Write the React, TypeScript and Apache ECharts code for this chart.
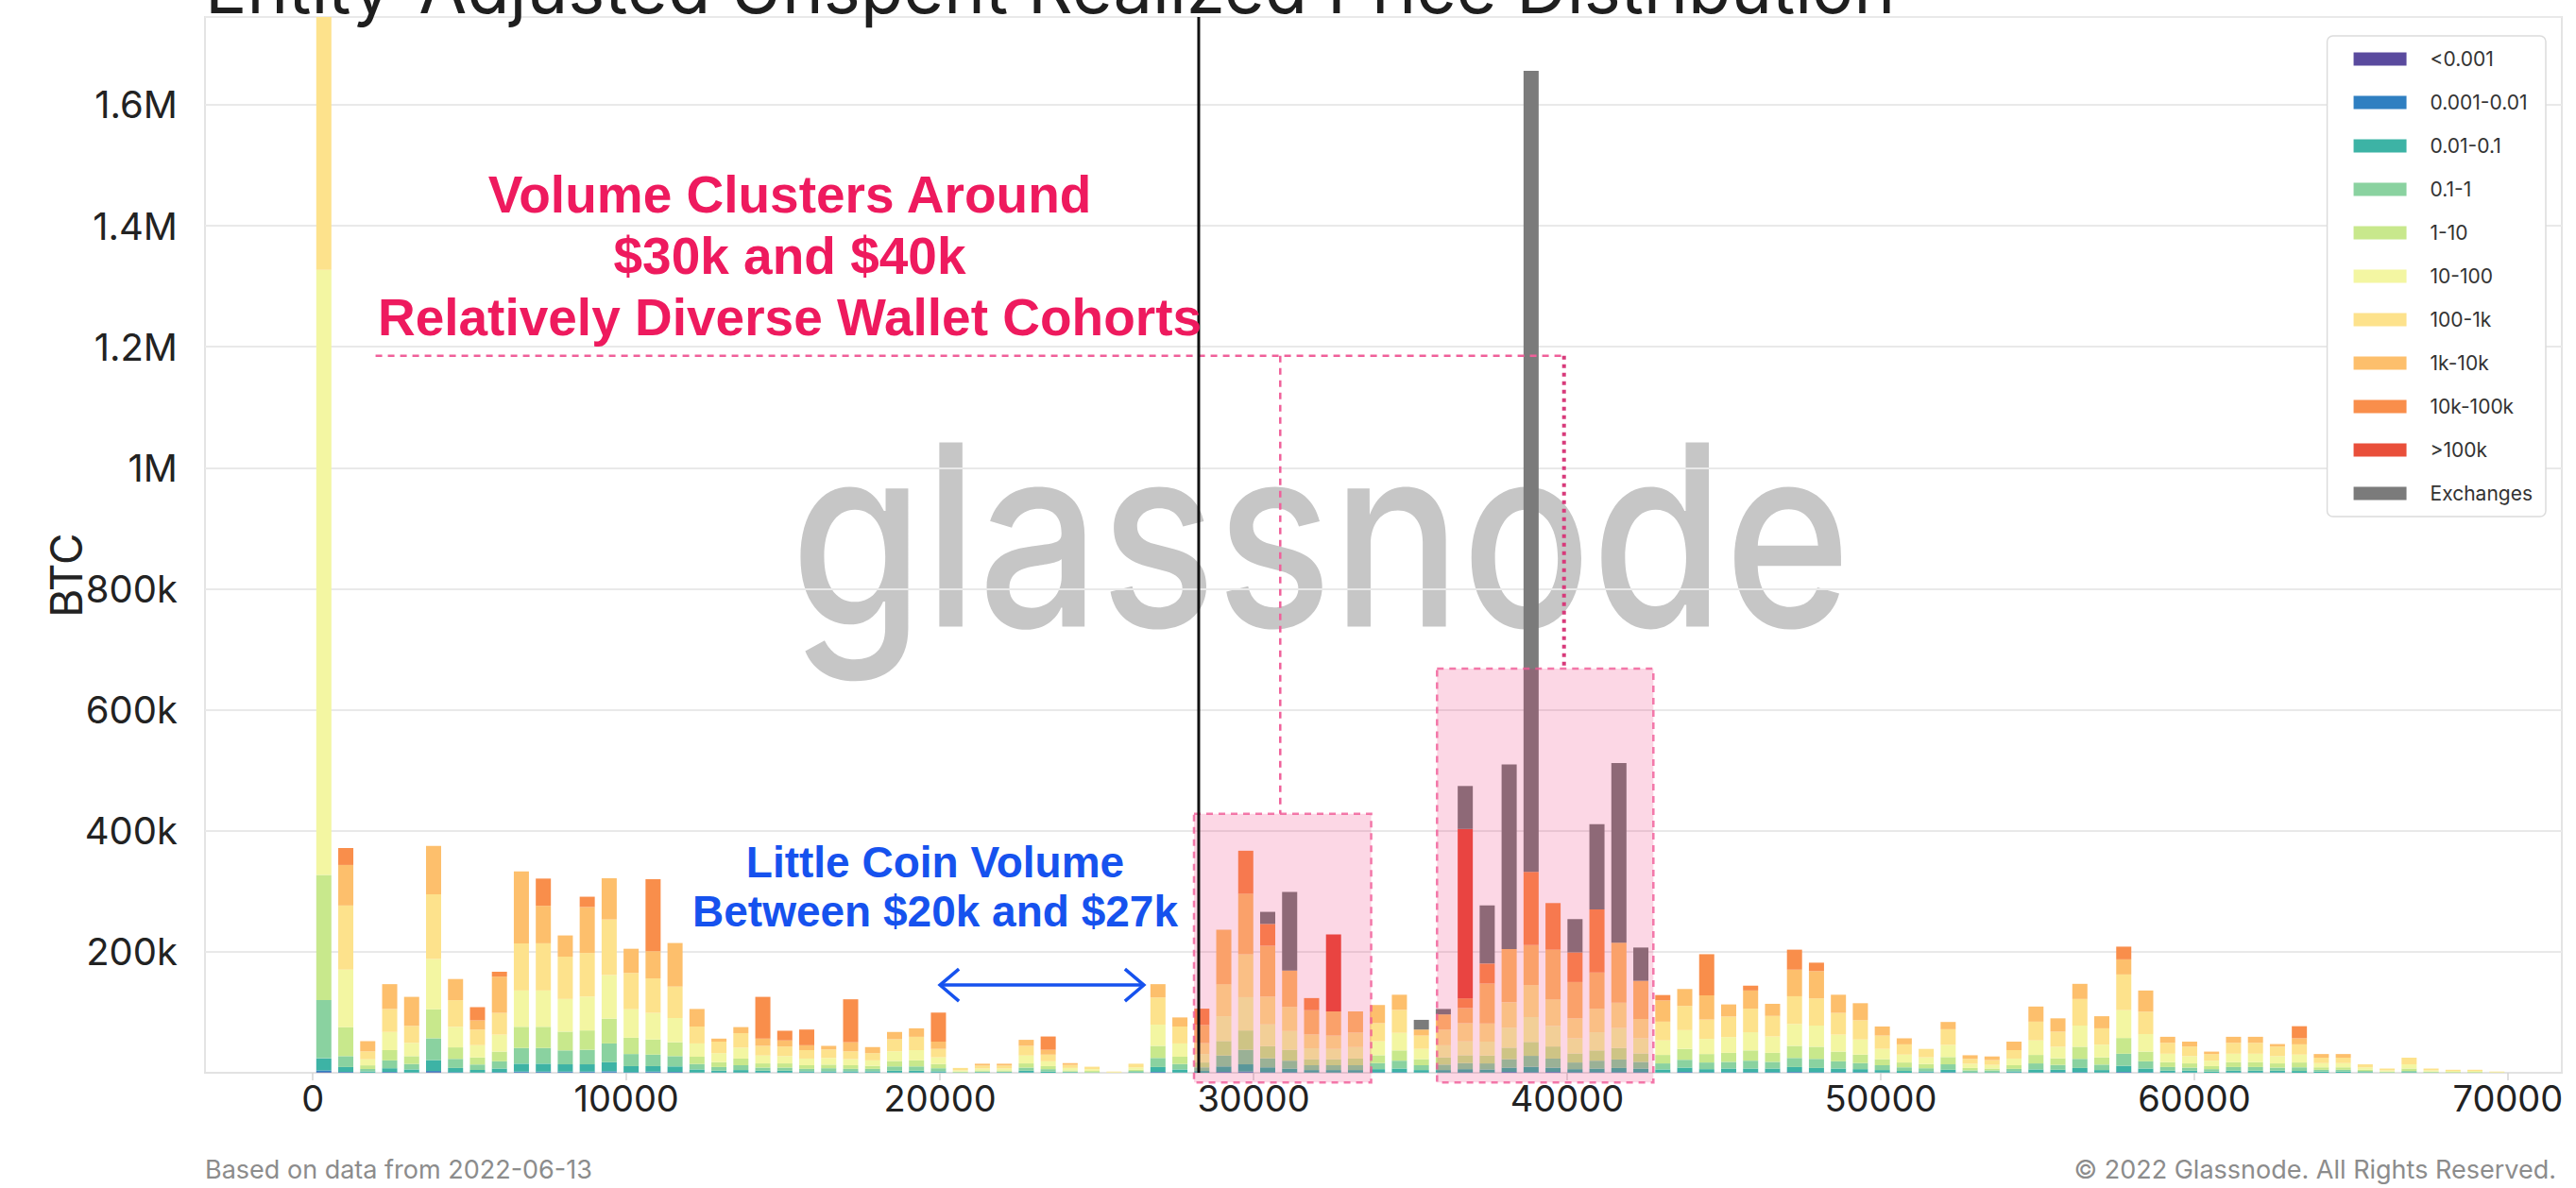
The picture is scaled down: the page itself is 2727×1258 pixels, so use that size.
import React, { useEffect, useRef } from "react";
import * as echarts from "echarts";

// ---------- DATA (values in thousands of BTC, 100 price bins of $700 from 0 to 70k) ----------
const BIN_WIDTH = 700;
const BIN_COUNT = 100;
const SERIES_NAMES = ["<0.001", "0.001-0.01", "0.01-0.1", "0.1-1", "1-10", "10-100", "100-1k", "1k-10k", "10k-100k", ">100k", "Exchanges"];
const SERIES_COLORS = ["#5a4a9e", "#2f7fc1", "#3db3a5", "#8ad2a0", "#c8e88c", "#f3f6a2", "#fde28c", "#fdbf6c", "#f98e4b", "#e94f3a", "#7b7b7b"];

const V_LT_0001 = [
  1, 0.5, 0, 0.5, 0, 1, 0, 0, 0, 0.5,
  0.5, 0.5, 0.5, 0.5, 0, 0.5, 0.5, 0, 0, 0,
  0, 0, 0, 0, 0, 0, 0, 0, 0, 0,
  0, 0, 0, 0, 0, 0, 0, 0, 0.5, 0,
  0, 0.5, 0.5, 0, 0, 0, 0, 0, 0, 0,
  0, 0, 0, 0, 0.5, 0, 0.5, 0, 0, 0,
  0, 0, 0.5, 0, 0, 0, 0, 0.5, 0, 0,
  0, 0, 0, 0, 0, 0, 0, 0, 0, 0,
  0, 0, 0.5, 0, 0, 0, 0, 0, 0, 0,
  0, 0, 0, 0, 0, 0, 0, 0, 0, 0,
];
const V_0001_001 = [
  3, 1, 0.3, 1, 0.5, 2, 1, 0.5, 1, 1.5,
  1.5, 1.5, 1.5, 2, 1, 1.5, 1, 0.5, 0.5, 0.5,
  0.5, 0.5, 0.5, 0.5, 0.5, 0.5, 0.5, 0.5, 0.5, 0,
  0, 0, 0.5, 0, 0, 0, 0, 0, 1, 0.5,
  0, 1, 1.5, 1, 1, 0.5, 0.5, 0.5, 1, 1,
  0.5, 0.5, 1, 0.5, 1, 1, 1, 1, 1, 1,
  1, 0.5, 1, 1, 1, 1, 1, 1, 1, 1,
  1, 0.5, 0, 0.5, 1, 0, 0, 0.5, 0.5, 1,
  1, 0.5, 1, 1, 0.5, 0.5, 0, 0.5, 0.5, 0.5,
  0, 0, 0, 0, 0, 0, 0, 0, 0, 0,
];
const V_001_01 = [
  20, 8, 2, 6, 5, 18, 7, 4, 6, 13,
  13, 12, 12, 15, 10, 9, 9, 5, 3, 4,
  3, 3, 2, 2, 2, 2, 3, 3, 2, 0,
  1, 1, 3, 2, 1, 0, 0, 1, 8, 5,
  3, 9, 12, 8, 6, 4, 4, 4, 5, 6,
  4, 4, 5, 5, 7, 9, 7, 5, 6, 7,
  6, 5, 7, 5, 6, 6, 6, 8, 7, 6,
  5, 4, 3, 2, 4, 1, 1, 2, 5, 4,
  7, 4, 10, 6, 3, 3, 2, 3, 3, 3,
  3, 2, 2, 1, 0, 1, 0, 0, 0, 0,
];
const V_01_1 = [
  96, 18, 4, 13, 9, 36, 15, 9, 12, 26,
  26, 23, 24, 31, 20, 19, 17, 9, 6, 8,
  5, 5, 4, 5, 4, 4, 7, 7, 5, 1,
  1, 1, 5, 4, 1, 1, 0, 2, 15, 9,
  6, 18, 24, 15, 13, 8, 8, 8, 10, 13,
  8, 9, 10, 10, 14, 18, 15, 11, 13, 14,
  11, 10, 13, 11, 11, 13, 11, 15, 15, 12,
  10, 8, 6, 5, 9, 3, 3, 4, 10, 8,
  15, 9, 20, 12, 6, 5, 4, 6, 6, 5,
  6, 3, 3, 2, 1, 2, 1, 0.5, 0.5, 0,
];
const V_1_10 = [
  207, 48, 6, 17, 13, 48, 19, 12, 16, 35,
  35, 31, 32, 41, 27, 25, 23, 12, 8, 11,
  7, 7, 6, 6, 6, 5, 9, 10, 7, 1,
  2, 2, 7, 5, 2, 2, 0, 2, 20, 12,
  8, 24, 32, 20, 18, 10, 10, 11, 13, 17,
  10, 12, 13, 13, 19, 23, 20, 15, 17, 19,
  14, 14, 18, 14, 15, 17, 15, 20, 20, 16,
  14, 10, 8, 7, 12, 4, 3, 6, 14, 11,
  20, 12, 26, 16, 8, 7, 5, 8, 8, 7,
  8, 4, 4, 2, 1, 4, 1, 1, 1, 0.5,
];
const V_10_100 = [
  1000, 95, 10, 30, 22, 83, 34, 20, 28, 60,
  60, 54, 56, 72, 47, 44, 40, 22, 15, 18,
  13, 12, 11, 11, 10, 9, 16, 17, 11, 2,
  3, 3, 13, 8, 4, 3, 1, 4, 35, 22,
  14, 41, 55, 36, 31, 18, 17, 19, 23, 29,
  17, 20, 23, 23, 33, 41, 34, 25, 30, 33,
  25, 24, 31, 25, 26, 30, 27, 36, 35, 28,
  25, 17, 13, 11, 20, 7, 6, 11, 24, 19,
  35, 21, 46, 29, 14, 12, 9, 14, 14, 12,
  13, 7, 7, 4, 2, 7, 2, 1.5, 1.5, 0.5,
];
const V_100_1K = [
  600, 106, 13, 38, 28, 107, 44, 26, 36, 78,
  78, 70, 72, 92, 60, 57, 52, 28, 19, 24,
  16, 16, 14, 14, 13, 12, 20, 22, 14, 4,
  5, 5, 16, 11, 5, 4, 1, 6, 45, 28,
  18, 53, 71, 46, 40, 23, 22, 24, 30, 38,
  22, 26, 30, 30, 42, 53, 44, 33, 39, 42,
  32, 31, 40, 32, 34, 39, 34, 46, 45, 36,
  32, 22, 17, 14, 26, 8, 8, 14, 31, 25,
  44, 27, 59, 37, 18, 16, 11, 18, 18, 16,
  17, 9, 9, 5, 3, 11, 3, 2, 2, 1,
];
const V_1K_10K = [
  0, 67, 17, 41, 48, 80, 35, 15, 60, 119,
  62, 35, 76, 68, 40, 45, 72, 29, 5, 10,
  12, 10, 8, 6, 15, 10, 12, 14, 12, 0,
  3, 3, 10, 8, 3, 0, 0, 0, 22, 15,
  30, 90, 100, 84, 60, 40, 40, 35, 30, 25,
  10, 25, 25, 66, 88, 66, 82, 60, 60, 99,
  63, 35, 28, 40, 20, 30, 20, 44, 45, 30,
  28, 15, 10, 0, 12, 6, 6, 14, 25, 22,
  25, 20, 25, 35, 10, 8, 4, 10, 10, 4,
  10, 6, 6, 0, 0, 0, 0, 0, 0, 0,
];
const V_10K_100K = [
  0, 28, 0, 0, 0, 0, 0, 22, 8, 0,
  45, 0, 17, 0, 0, 119, 0, 0, 0, 0,
  69, 16, 26, 0, 71, 0, 0, 0, 48, 0,
  0, 0, 0, 22, 0, 0, 0, 0, 0, 0,
  27, 0, 71, 36, 0, 20, 0, 0, 0, 0,
  0, 0, 16, 33, 0, 121, 77, 49, 104, 0,
  0, 9, 0, 68, 0, 8, 0, 33, 14, 0,
  0, 0, 0, 0, 0, 0, 0, 0, 0, 0,
  0, 0, 21, 0, 0, 0, 0, 0, 0, 0,
  20, 0, 0, 0, 0, 0, 0, 0, 0, 0,
];
const V_GT_100K = [
  0, 0, 0, 0, 0, 0, 0, 0, 0, 0,
  0, 0, 0, 0, 0, 0, 0, 0, 0, 0,
  0, 0, 0, 0, 0, 0, 0, 0, 0, 0,
  0, 0, 0, 0, 0, 0, 0, 0, 0, 0,
  0, 0, 0, 0, 0, 0, 127, 0, 0, 0,
  0, 0, 280, 0, 0, 0, 0, 0, 0, 0,
  0, 0, 0, 0, 0, 0, 0, 0, 0, 0,
  0, 0, 0, 0, 0, 0, 0, 0, 0, 0,
  0, 0, 0, 0, 0, 0, 0, 0, 0, 0,
  0, 0, 0, 0, 0, 0, 0, 0, 0, 0,
];
const V_EXCHANGES = [
  0, 0, 0, 0, 0, 0, 0, 0, 0, 0,
  0, 0, 0, 0, 0, 0, 0, 0, 0, 0,
  0, 0, 0, 0, 0, 0, 0, 0, 0, 0,
  0, 0, 0, 0, 0, 0, 0, 0, 0, 0,
  0, 0, 0, 20, 130, 0, 0, 0, 0, 0,
  16, 9, 71, 96, 305, 1324, 0, 55, 141, 297,
  55, 0, 0, 0, 0, 0, 0, 0, 0, 0,
  0, 0, 0, 0, 0, 0, 0, 0, 0, 0,
  0, 0, 0, 0, 0, 0, 0, 0, 0, 0,
  0, 0, 0, 0, 0, 0, 0, 0, 0, 0,
];
const SERIES_VALUES = [V_LT_0001, V_0001_001, V_001_01, V_01_1, V_1_10, V_10_100, V_100_1K, V_1K_10K, V_10K_100K, V_GT_100K, V_EXCHANGES];

const X_TICKS = [0, 10000, 20000, 30000, 40000, 50000, 60000, 70000];
const X_MIN = -3440;
const X_MAX = 71720;
const Y_MAX = 1745;
const Y_STEP = 200;

// annotations (data units: $ and thousands of BTC)
const PRICE_LINE_X = 28250;
const BOXES = [
  [28100, 33750, -16, 428],
  [35850, 42750, -16, 668],
];
const LEADER_Y = 1185;
const LEADER_X0 = 2000;
const LEADER_X1 = 39900;
const LEADER_DROP_30K = 30850;
const ARROW = [20000, 26500, 145];

const PINK = "#ee1a5e";
const BLUE = "#1652ee";

// layout
const W = 2727;
const H = 1258;
const GRID = { left: 217, right: 15, top: 18, bottom: 122 };

export default function App() {
  const ref = useRef<HTMLDivElement>(null);
  useEffect(() => {
    document.body.style.margin = "0";
    const chart = echarts.init(ref.current!, null, { renderer: "svg" });

    // bar grid covers exactly the binned range [0, BIN_COUNT*BIN_WIDTH] of the value axis
    const plotW = W - GRID.left - GRID.right;
    const pxPer = plotW / (X_MAX - X_MIN);
    const barGrid = {
      left: GRID.left + (0 - X_MIN) * pxPer,
      right: GRID.right + (X_MAX - BIN_COUNT * BIN_WIDTH) * pxPer,
      top: GRID.top,
      bottom: GRID.bottom,
    };
    const binLabels = V_EXCHANGES.map((_, i) => String(BIN_WIDTH / 2 + BIN_WIDTH * i));

    const barSeries = SERIES_NAMES.map((name, k) => ({
      name,
      type: "bar",
      stack: "urpd",
      xAxisIndex: 1,
      yAxisIndex: 1,
      barWidth: 16,
      silent: true,
      z: 2,
      itemStyle: { color: SERIES_COLORS[k] },
      data: SERIES_VALUES[k],
    }));

    const annotationSeries = {
      name: "annotations",
      type: "custom",
      xAxisIndex: 0,
      yAxisIndex: 0,
      silent: true,
      z: 5,
      clip: false,
      data: [[0, 0]],
      encode: { x: 0, y: 1 },
      renderItem: (_params: any, api: any) => {
        const children: any[] = [];
        BOXES.forEach(([x0, x1, y0, y1]) => {
          const a = api.coord([x0, y1]);
          const b = api.coord([x1, y0]);
          children.push({
            type: "rect",
            shape: { x: a[0], y: a[1], width: b[0] - a[0], height: b[1] - a[1] },
            style: { fill: "rgba(238,20,100,0.17)", stroke: "rgba(240,90,150,0.8)", lineWidth: 2.5, lineDash: [7, 6] },
          });
        });
        const h0 = api.coord([LEADER_X0, LEADER_Y]);
        const h1 = api.coord([LEADER_X1, LEADER_Y]);
        children.push({ type: "line", shape: { x1: h0[0], y1: h0[1], x2: h1[0], y2: h1[1] }, style: { stroke: "#f0609a", lineWidth: 2.5, lineDash: [7, 6] } });
        const v0 = api.coord([LEADER_DROP_30K, LEADER_Y]);
        const v1 = api.coord([LEADER_DROP_30K, BOXES[0][3]]);
        children.push({ type: "line", shape: { x1: v0[0], y1: v0[1], x2: v1[0], y2: v1[1] }, style: { stroke: "#f0609a", lineWidth: 2.5, lineDash: [7, 6] } });
        const w1 = api.coord([LEADER_X1, BOXES[1][3]]);
        children.push({ type: "line", shape: { x1: h1[0], y1: h1[1], x2: w1[0], y2: w1[1] }, style: { stroke: "#d83a7a", lineWidth: 4, lineDash: [4, 5] } });
        const p0 = api.coord([PRICE_LINE_X, 0]);
        const p1 = api.coord([PRICE_LINE_X, Y_MAX]);
        children.push({ type: "line", shape: { x1: p0[0], y1: p0[1], x2: p1[0], y2: p1[1] }, style: { stroke: "#111", lineWidth: 3 } });
        const a0 = api.coord([ARROW[0], ARROW[2]]);
        const a1 = api.coord([ARROW[1], ARROW[2]]);
        const hl = 20, hh = 17;
        children.push({ type: "line", shape: { x1: a0[0], y1: a0[1], x2: a1[0], y2: a1[1] }, style: { stroke: BLUE, lineWidth: 3.5 } });
        children.push({ type: "polyline", shape: { points: [[a0[0] + hl, a0[1] - hh], [a0[0], a0[1]], [a0[0] + hl, a0[1] + hh]] }, style: { stroke: BLUE, lineWidth: 3.5, fill: "none" } });
        children.push({ type: "polyline", shape: { points: [[a1[0] - hl, a1[1] - hh], [a1[0], a1[1]], [a1[0] - hl, a1[1] + hh]] }, style: { stroke: BLUE, lineWidth: 3.5, fill: "none" } });
        return { type: "group", children };
      },
    };

    const txt = (o: any) => ({
      type: "text",
      silent: true,
      ...o,
      style: {
        ...o.style,
        align: o.style.textAlign,
        verticalAlign: o.style.textVerticalAlign,
      },
    });

    chart.setOption({
      animation: false,
      backgroundColor: "#ffffff",
      grid: [
        { ...GRID, show: true, borderColor: "#e4e4e4", borderWidth: 2, outerBoundsMode: "none" },
        { ...barGrid, show: false, outerBoundsMode: "none" },
      ],
      legend: {
        data: SERIES_NAMES,
        orient: "vertical",
        right: 32,
        top: 38,
        icon: "rect",
        itemWidth: 56,
        itemHeight: 14,
        itemGap: 25,
        selectedMode: false,
        backgroundColor: "#ffffff",
        borderColor: "#dcdcdc",
        borderWidth: 1.5,
        borderRadius: 6,
        padding: [14, 14, 14, 28],
        textStyle: { fontFamily: "Inter", fontSize: 21, lineHeight: 21, color: "#333", padding: [0, 0, 0, 20] },
        z: 20,
      },
      xAxis: [
        {
          type: "value",
          gridIndex: 0,
          min: X_MIN,
          max: X_MAX,
          splitLine: { show: false },
          axisLine: { show: true, lineStyle: { color: "#e2e2e2", width: 2 } },
          axisTick: { show: true, length: 8, lineStyle: { color: "#d4d4d4", width: 1.5 }, customValues: X_TICKS },
          axisLabel: { customValues: X_TICKS, formatter: (v: number) => String(v), fontFamily: "Inter", fontSize: 38, color: "#222", margin: 8 },
        },
        {
          type: "category",
          gridIndex: 1,
          data: binLabels,
          boundaryGap: true,
          show: false,
        },
      ],
      yAxis: [
        {
          type: "value",
          gridIndex: 0,
          min: 0,
          max: Y_MAX,
          interval: Y_STEP,
          splitLine: { lineStyle: { color: "#e9e9e9", width: 2 } },
          axisLine: { show: false },
          axisTick: { show: false },
          axisLabel: {
            fontFamily: "Inter",
            fontSize: 40,
            color: "#222",
            margin: 29,
            formatter: (v: number) => {
              if (v === 0 || v % Y_STEP !== 0) return "";
              return v >= 1000 ? `${v / 1000}M` : `${v}k`;
            },
          },
        },
        {
          type: "value",
          gridIndex: 1,
          min: 0,
          max: Y_MAX,
          interval: Y_STEP,
          show: false,
          splitLine: { show: false },
        },
      ],
      graphic: [
        txt({ x: 1398, y: 566, z: -1, scaleX: 0.85, style: { text: "glassnode", fontFamily: "Inter", fontSize: 268, fontWeight: 500, fill: "#c6c6c6", textAlign: "center", textVerticalAlign: "middle" } }),
        txt({ x: 217, y: 24, z: 30, style: { text: "Entity-Adjusted Unspent Realized Price Distribution", fontFamily: "Inter", fontSize: 74, fill: "#1e1e1e", textAlign: "left", textVerticalAlign: "bottom" } }),
        txt({ x: 836, y: 271, z: 30, style: { text: "Volume Clusters Around\n$30k and $40k\nRelatively Diverse Wallet Cohorts", fontFamily: "Liberation Sans", fontWeight: "bold", fontSize: 55, lineHeight: 65, fill: PINK, textAlign: "center", textVerticalAlign: "middle" } }),
        txt({ x: 990, y: 939, z: 30, style: { text: "Little Coin Volume\nBetween $20k and $27k", fontFamily: "Liberation Sans", fontWeight: "bold", fontSize: 46, lineHeight: 52, fill: BLUE, textAlign: "center", textVerticalAlign: "middle" } }),
        txt({ x: 70, y: 609, rotation: Math.PI / 2, z: 30, style: { text: "BTC", fontFamily: "Inter", fontSize: 46, fill: "#222", textAlign: "center", textVerticalAlign: "middle" } }),
        txt({ x: 217, y: 1238, z: 30, style: { text: "Based on data from 2022-06-13", fontFamily: "Inter", fontSize: 27, fill: "#8c8c8c", textAlign: "left", textVerticalAlign: "middle" } }),
        txt({ x: 2706, y: 1238, z: 30, style: { text: "© 2022 Glassnode. All Rights Reserved.", fontFamily: "Inter", fontSize: 27, fill: "#8c8c8c", textAlign: "right", textVerticalAlign: "middle" } }),
      ],
      series: [...barSeries, annotationSeries],
    });
    return () => chart.dispose();
  }, []);
  return <div ref={ref} style={{ position: "absolute", left: 0, top: 0, width: W, height: H }} />;
}
